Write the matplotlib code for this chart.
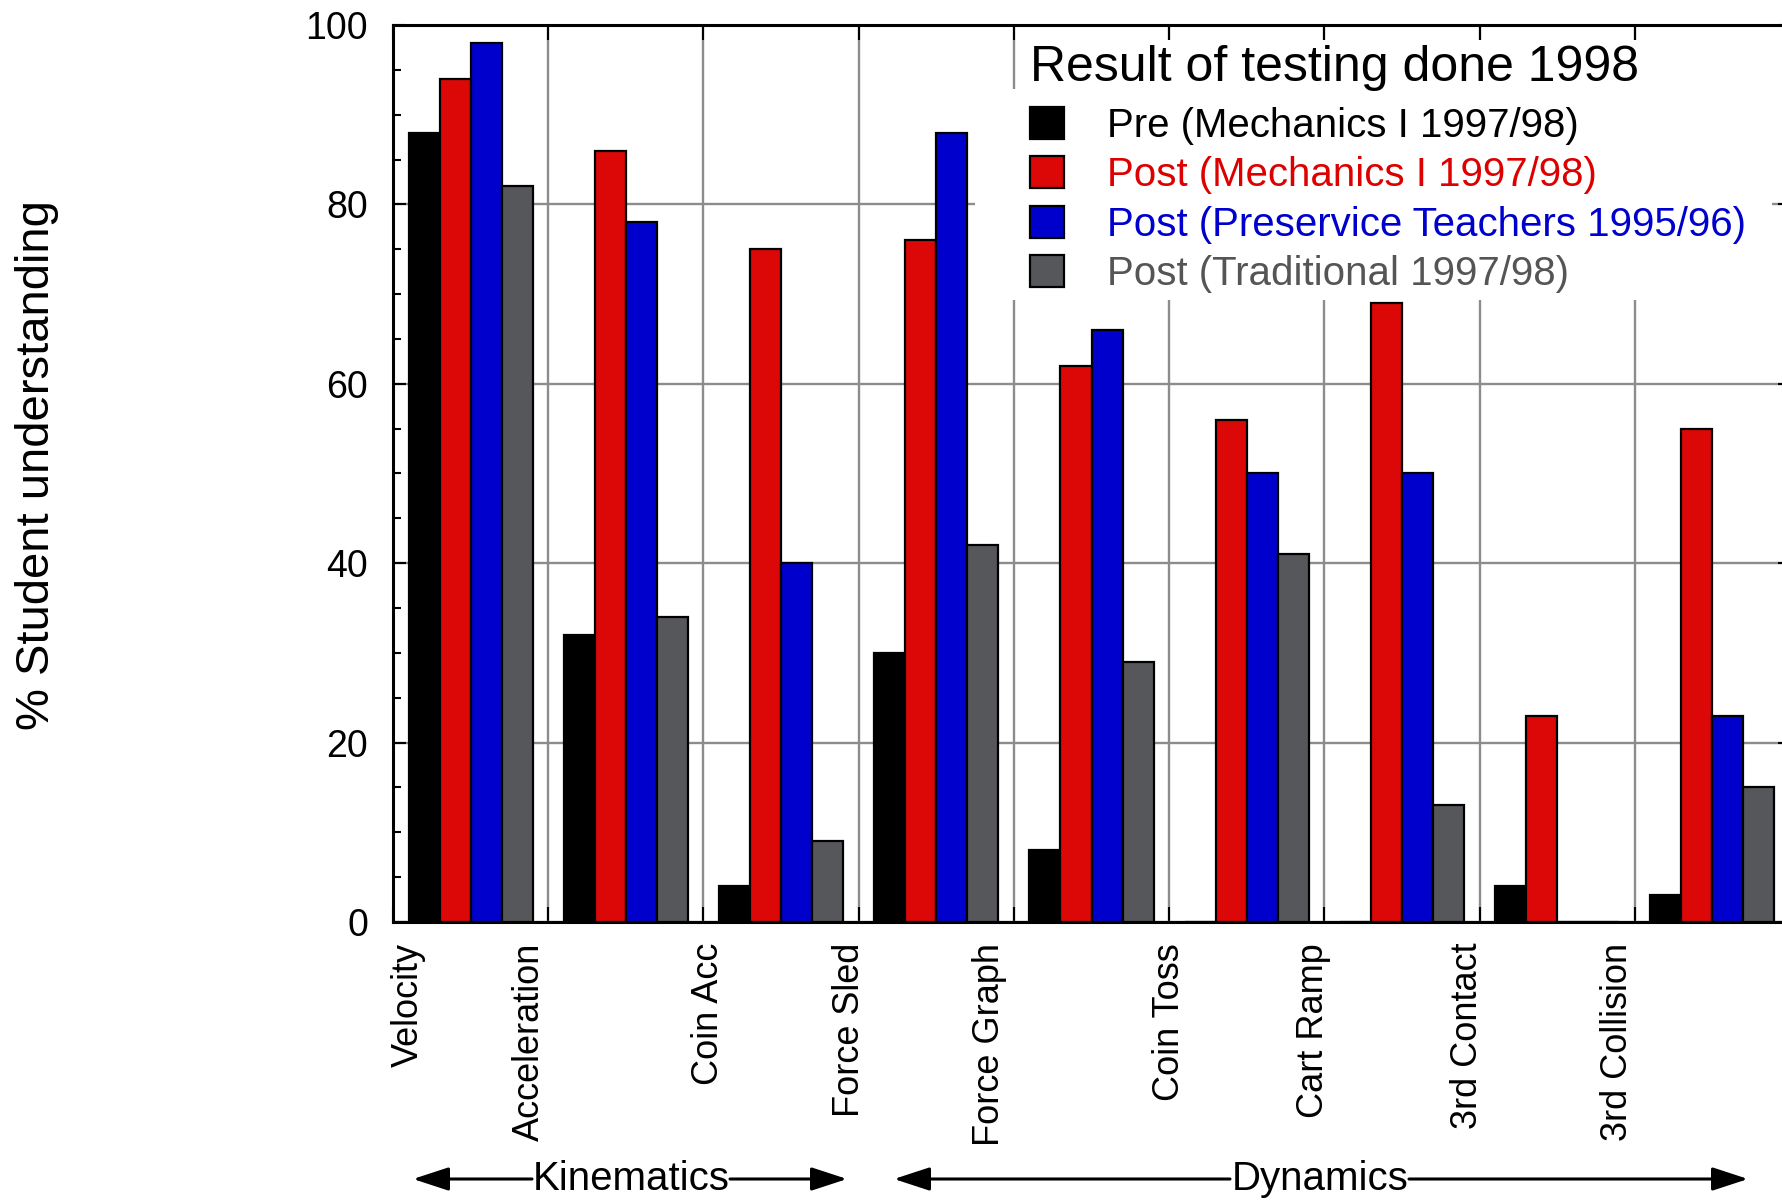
import numpy as np
import matplotlib.pyplot as plt
from matplotlib.patches import Rectangle
from matplotlib.ticker import MultipleLocator, FixedLocator, FixedFormatter, NullFormatter

plt.rcParams['font.family'] = ['Liberation Sans', 'DejaVu Sans']

# data
categories = ["Velocity", "Acceleration", "Coin Acc", "Force Sled", "Force Graph",
              "Coin Toss", "Cart Ramp", "3rd Contact", "3rd Collision"]
pre_mech = [88, 32, 4, 30, 8, 0, 0, 4, 3]
post_mech = [94, 86, 75, 76, 62, 56, 69, 23, 55]
post_preservice = [98, 78, 40, 88, 66, 50, 50, 0, 23]
post_trad = [82, 34, 9, 42, 29, 41, 13, 0, 15]
series_labels = ["Pre (Mechanics I 1997/98)", "Post (Mechanics I 1997/98)",
                 "Post (Preservice Teachers 1995/96)", "Post (Traditional 1997/98)"]

bar_colors = ['#000000', '#dc0808', '#0000cc', '#55575a']
text_colors = ['#000000', '#dd0000', '#0000cc', '#555555']
# small shifts of the category labels from the group boundaries (as in the original)
label_shift = [0.1, -0.12, 0.03, -0.06, -0.16, 0.0, -0.07, -0.08, -0.11]

W, H = 1782, 1202
fig = plt.figure(figsize=(W/100, H/100), dpi=100)
ax = fig.add_axes([393/W, 1-922/H, (1790-393)/W, (922-25)/H])

x = np.arange(len(categories))
w = 0.2
series = [pre_mech, post_mech, post_preservice, post_trad]
handles = []
for k, vals in enumerate(series):
    b = ax.bar(x + 0.2 + w*k, vals, width=w, color=bar_colors[k],
               edgecolor='black', linewidth=1.6, zorder=3)
    handles.append(b)

ax.set_xlim(0, len(categories))
ax.set_ylim(0, 100)
ax.set_axisbelow(True)

ax.xaxis.remove_overlapping_locs = False
ax.xaxis.set_major_locator(FixedLocator(np.arange(len(categories)+1)))
ax.xaxis.set_major_formatter(NullFormatter())
ax.xaxis.set_minor_locator(FixedLocator(x + np.array(label_shift)))
ax.xaxis.set_minor_formatter(FixedFormatter(categories))
ax.yaxis.set_major_locator(MultipleLocator(20))
ax.yaxis.set_minor_locator(MultipleLocator(5))

ax.tick_params(axis='x', which='major', direction='in', length=11, width=1.5,
               top=True, bottom=True)
ax.tick_params(axis='x', which='minor', length=0, top=False, bottom=True,
               labelsize=26, pad=15, labelrotation=90)
ax.tick_params(axis='y', which='major', direction='in', length=9, width=1.5,
               left=True, right=True, labelsize=27, pad=18)
ax.tick_params(axis='y', which='minor', direction='in', length=6, width=1.5,
               left=True, right=True)

ax.grid(True, which='major', color='#8c8c8c', linewidth=1.7)
for s in ax.spines.values():
    s.set_linewidth(2.2)

# white backdrop behind legend
ax.add_patch(Rectangle((0.4166, 0.6934), 0.987-0.4166, 0.9287-0.6934,
                       transform=ax.transAxes, facecolor='white', edgecolor='none', zorder=1))
ax.add_patch(Rectangle((0.446, 0.9287), 0.987-0.446, 0.9833-0.9287,
                       transform=ax.transAxes, facecolor='white', edgecolor='none', zorder=1))

leg = ax.legend(handles, series_labels, title="Result of testing done 1998",
                loc='upper left', bbox_to_anchor=(0.456, 0.978), frameon=False,
                fontsize=29, title_fontsize=36, alignment='left',
                handlelength=0.84, handleheight=0.85, handletextpad=1.07,
                labelspacing=0.28, borderpad=0, borderaxespad=0)
leg._legend_box.sep = 0.28*29 + 3.6   # a bit more room under the title
for t, c in zip(leg.get_texts(), text_colors):
    t.set_color(c)

fig.text(37/W, 1-465/H, "% Student understanding", rotation=90,
         fontsize=34, ha='center', va='center')

# bracket arrows under the categories
yb = 1 - 1179/H
groups = [("Kinematics", 631, 532, 730, 413, 847),
          ("Dynamics", 1320, 1230, 1409, 894, 1748)]
for name, xc, xl, xr, tl, tr in groups:
    fig.text(xc/W, yb, name, fontsize=29, ha='center', va='center')
    for start, tip in [(xl, tl), (xr, tr)]:
        ax.annotate("", xy=(tip/W, yb), xytext=(start/W, yb),
                    xycoords='figure fraction', textcoords='figure fraction',
                    arrowprops=dict(arrowstyle='-|>,head_length=1.1,head_width=0.36',
                                    mutation_scale=20, lw=2.2, color='black',
                                    shrinkA=0, shrinkB=0))

fig.savefig('out.png', dpi=100)
